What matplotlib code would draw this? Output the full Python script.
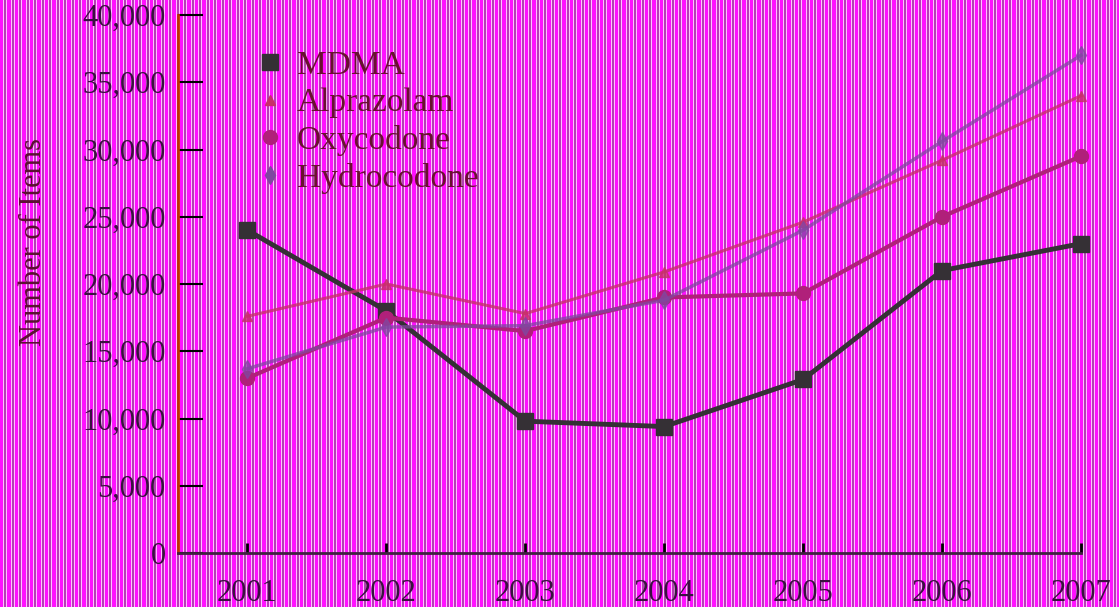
import numpy as np
import matplotlib
matplotlib.use("Agg")
import matplotlib.pyplot as plt
from matplotlib.lines import Line2D

years = [2001, 2002, 2003, 2004, 2005, 2006, 2007]
mdma = [24000, 18000, 9800, 9400, 12900, 21000, 23000]
alprazolam = [17600, 20000, 17800, 20900, 24600, 29200, 34000]
oxycodone = [13000, 17500, 16500, 19000, 19300, 25000, 29500]
hydrocodone = [13700, 16800, 16900, 18800, 24000, 30600, 37000]
series_names = ["MDMA", "Alprazolam", "Oxycodone", "Hydrocodone"]
yticks = [0, 5000, 10000, 15000, 20000, 25000, 30000, 35000, 40000]

W, H = 1119, 607
fig = plt.figure(figsize=(W / 100, H / 100), dpi=100)

# striped background, 15 px repeat (two stripes)
M, L, P = [255, 16, 255], [255, 190, 255], [180, 64, 180]
pal = np.array([M, M, M, L, P, P, L, M, M, M, M, L, P, P, L]) / 255.0
cols = pal[np.arange(W) % len(pal)]
bg = np.repeat(cols[None, :, :], H, axis=0)
fig.figimage(bg, xo=0, yo=0, zorder=-10)

ax = fig.add_axes([178 / W, 54 / H, (1081 - 178) / W, (553 - 15) / H])
ax.patch.set_alpha(0)

styles = [
    dict(color="#353035", marker="s", ms=11, lw=3.5),
    dict(color="#c8306a", marker="^", ms=7, lw=2.2, alpha=0.8),
    dict(color="#b0207a", marker="o", ms=10, lw=3),
    dict(color="#8048a0", marker="d", ms=9, lw=2.5, alpha=0.75),
]
for vals, name, st in zip([mdma, alprazolam, oxycodone, hydrocodone], series_names, styles):
    ax.plot(years, vals, label=name, clip_on=False, **st)

ax.set_xlim(2000.5, 2007)
ax.set_ylim(0, 40000)
ax.set_xticks(years)
ax.set_yticks(yticks)
ax.set_yticklabels(["{:,}".format(v) for v in yticks])

serif = "Liberation Serif"
txtc = "#3a1040"
for lab in ax.get_xticklabels() + ax.get_yticklabels():
    lab.set_fontfamily(serif)
    lab.set_fontsize(22)
    lab.set_color(txtc)

ax.spines["top"].set_visible(False)
ax.spines["right"].set_visible(False)
ax.spines["left"].set_color("#c03000")
ax.spines["left"].set_linewidth(2)
ax.spines["bottom"].set_color("#402040")
ax.spines["bottom"].set_linewidth(2)
ax.tick_params(axis="y", direction="in", length=18, width=1.5, color="black", pad=9)
ax.tick_params(axis="x", direction="in", length=7, width=2, pad=19)
tick_cols = ["#1010d0", "#c03000", "#302030", "#1010d0", "#c03000", "#302030", "#1010d0"]
for t, c in zip(ax.xaxis.get_major_ticks(), tick_cols):
    t.tick1line.set_color(c)

ax.set_ylabel("Number of Items", fontfamily=serif, fontsize=22, color="#5a1030")
ax.yaxis.set_label_coords((48 - 178) / 903, (553 - 242) / 538)

handles = [Line2D([], [], linestyle="none", marker=st["marker"], color=st["color"],
                  ms=st["ms"]) for st in styles]
leg = ax.legend(handles, series_names, loc="upper left", bbox_to_anchor=(240 / W, 1 - 34 / H),
                bbox_transform=fig.transFigure, frameon=False, handlelength=0.8,
                handletextpad=0.4, labelspacing=0.2, borderpad=0,
                prop={"family": serif, "size": 24})
for t in leg.get_texts():
    t.set_color("#6a1030")

fig.savefig("out.png", dpi=100)
